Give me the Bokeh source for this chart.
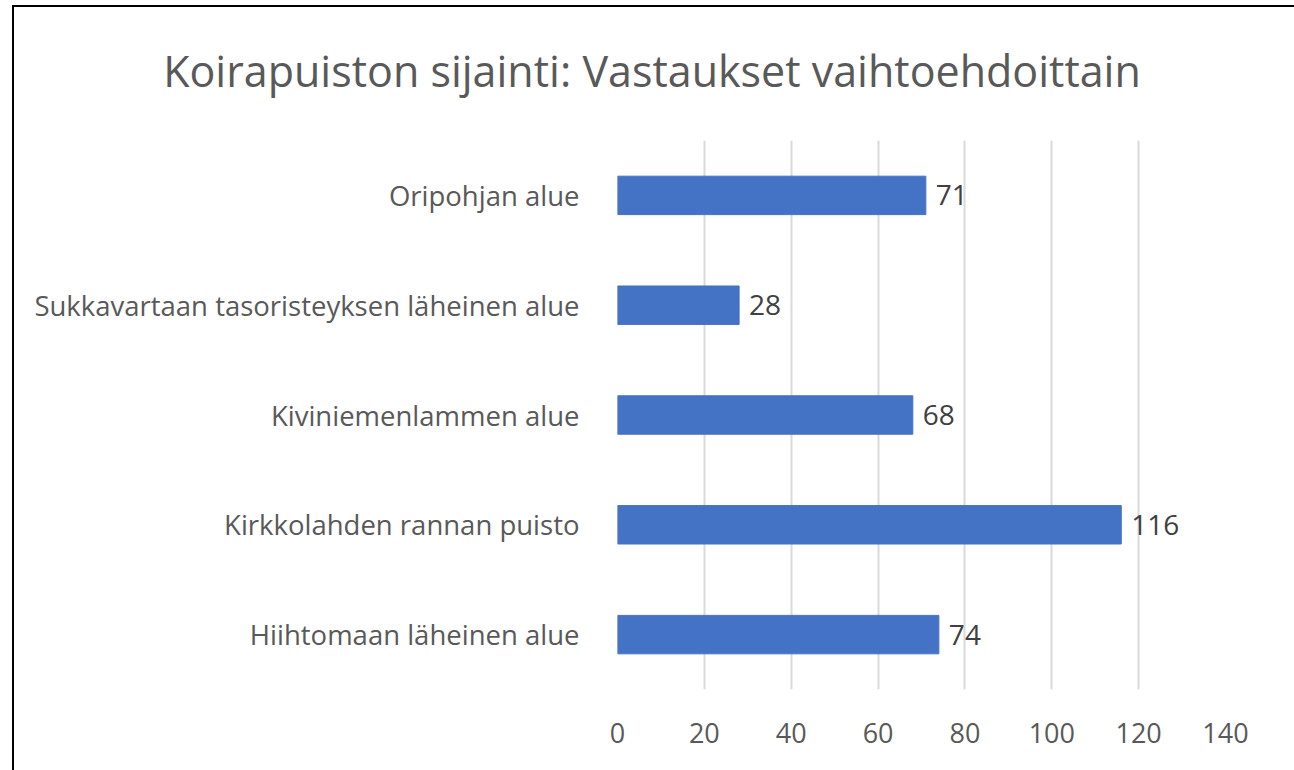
from bokeh.plotting import figure
from bokeh.models import ColumnDataSource, FactorRange, Range1d, FixedTicker, Div
from bokeh.layouts import column
from bokeh.embed import file_html
from bokeh.resources import INLINE
from bokeh.core.properties import value

categories = ["Oripohjan alue",
              "Sukkavartaan tasoristeyksen läheinen alue",
              "Kiviniemenlammen alue",
              "Kirkkolahden rannan puisto",
              "Hiihtomaan läheinen alue"]
counts = [71, 28, 68, 116, 74]
x_ticks = [0, 20, 40, 60, 80, 100, 120, 140]
title_text = "Koirapuiston sijainti: Vastaukset vaihtoehdoittain"

FONT = "Open Sans"
W = 1278
TITLE_H = 100
H = 653
ML, MR, MT, MB = 603, 67, 23, 81

src = ColumnDataSource(dict(cat=categories, val=counts,
                            lab=[str(v) for v in counts]))

title = Div(text=(f'<div style="padding-top:37px;line-height:1;font-size:43px;'
                  f'font-family:\'{FONT}\';color:#595959;text-align:center;'
                  f'width:{W - 12}px;white-space:nowrap">{title_text}</div>'),
            width=W, height=TITLE_H)

p = figure(width=W, height=H, output_backend="svg", toolbar_location=None,
           y_range=FactorRange(factors=list(reversed(categories))),
           x_range=Range1d(0, 140),
           min_border_left=ML, min_border_right=MR,
           min_border_top=MT, min_border_bottom=MB)

p.hbar(y="cat", right="val", left=0, height=0.35, source=src,
       fill_color="#4472C4", line_color="#4472C4")
p.text(x="val", y="cat", text="lab", source=src, x_offset=10,
       text_align="left", text_baseline="middle",
       text_font=value(FONT), text_font_size="28px", text_color="#404040")

p.outline_line_color = None
p.background_fill_color = "white"
p.border_fill_color = "white"

p.xaxis.ticker = FixedTicker(ticks=x_ticks)
p.xaxis.axis_line_color = None
p.xaxis.major_tick_line_color = None
p.xaxis.minor_tick_line_color = None
p.xaxis.major_label_standoff = 27
p.xaxis.major_label_text_font = FONT
p.xaxis.major_label_text_font_size = "27px"
p.xaxis.major_label_text_color = "#595959"

p.yaxis.axis_line_color = None
p.yaxis.major_tick_line_color = None
p.yaxis.minor_tick_line_color = None
p.yaxis.major_label_standoff = 32
p.yaxis.major_label_text_font = FONT
p.yaxis.major_label_text_font_size = "27.5px"
p.yaxis.major_label_text_color = "#595959"

p.xgrid.grid_line_color = "#d9d9d9"
p.xgrid.grid_line_width = 2
p.ygrid.grid_line_color = None

layout = column(title, p, spacing=0)
layout.styles = {"outline": "2px solid black", "outline-offset": "0px",
                 "margin-left": "14px", "margin-top": "7px",
                 "background-color": "white"}

open("out.html", "w").write(file_html(layout, INLINE))
